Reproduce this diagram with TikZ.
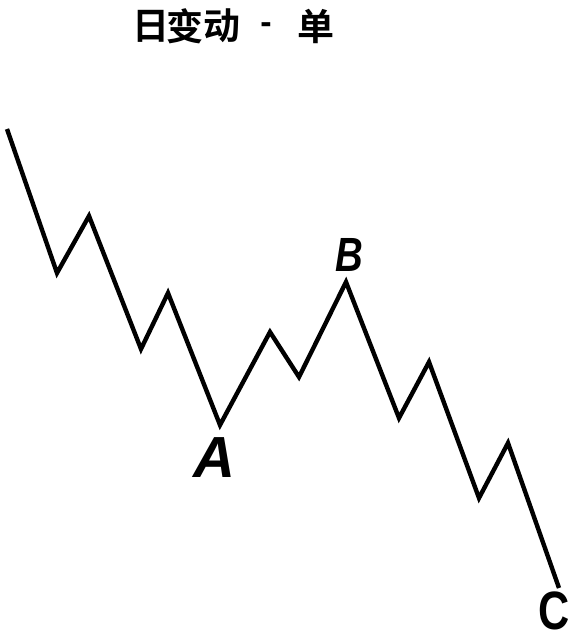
\documentclass[tikz,border=0pt]{standalone}
\usepackage{fontspec}
\setmainfont{Liberation Sans}
\newfontfamily\cjk{Noto Sans CJK SC Bold}
\begin{document}
\begin{tikzpicture}[x=1pt,y=-1pt,
  wave/.style={line width=4.4pt,line join=miter,line cap=butt},
  lbl/.style={inner sep=0pt},
  ttl/.style={font=\cjk\fontsize{37}{37}\selectfont,inner sep=0pt}]
\useasboundingbox (0,0) rectangle (578,642);
\node[ttl] (t1) at (151,26) {日};
\node[ttl] (t2) at (185,26) {变};
\node[ttl] (t3) at (222,26) {动};
\node[inner sep=0pt,font=\fontsize{34}{34}\selectfont\bfseries] (t4) at (266,28) {-};
\node[ttl] (t5) at (316,26) {单};
\coordinate (s) at (7,129);
\coordinate (v1) at (57,273);
\coordinate (p1) at (89,216);
\coordinate (v2) at (141,349);
\coordinate (p2) at (168,293);
\coordinate (a) at (220,425);
\coordinate (p3) at (270,332);
\coordinate (v3) at (299,377);
\coordinate (b) at (346,282);
\coordinate (v4) at (399,418);
\coordinate (p4) at (429,362);
\coordinate (v5) at (479,498);
\coordinate (p5) at (508,443);
\coordinate (e) at (559,588);
\draw[wave] (s) -- (v1) -- (p1) -- (v2) -- (p2) -- (a) -- (p3) -- (v3) -- (b) -- (v4) -- (p4) -- (v5) -- (p5) -- (e);
\node[lbl,font=\fontsize{58}{58}\selectfont\bfseries\itshape] (la) at (214,458) {A};
\node[lbl,font=\fontsize{48}{48}\selectfont\bfseries\itshape,xscale=0.8] (lb) at (349,255) {B};
\node[lbl,font=\fontsize{54}{54}\selectfont\bfseries,xscale=0.8] (lc) at (554,611) {C};
\end{tikzpicture}
\end{document}
